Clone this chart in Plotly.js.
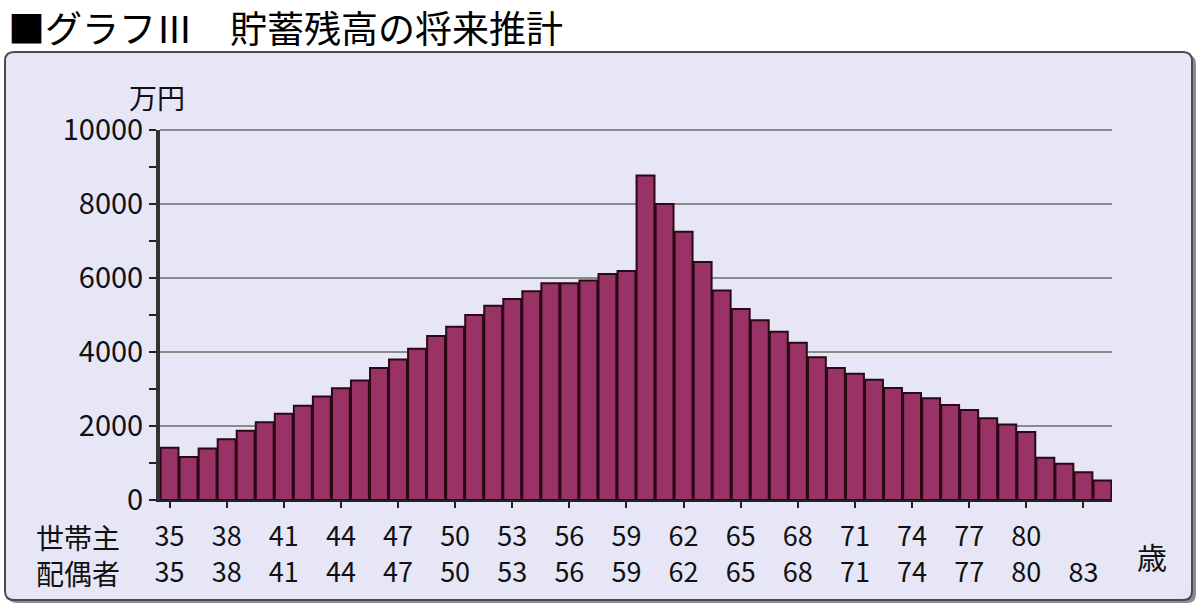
<!DOCTYPE html>
<html>
<head>
<meta charset="utf-8">
<script src="https://cdn.plot.ly/plotly-3.0.1.min.js"></script>
<style>html,body{margin:0;padding:0;background:#fff;}#chart{width:1200px;height:612px;}</style>
</head>
<body>
<div id="chart"></div>
<script>
// Spouse ages (one bar per year)
const ages = [35,36,37,38,39,40,41,42,43,44,45,46,47,48,49,50,51,52,53,54,55,56,57,58,59,
              60,61,62,63,64,65,66,67,68,69,70,71,72,73,74,75,76,77,78,79,80,81,82,83,84];
// Projected savings balance (万円)
const savings = [1410,1160,1390,1640,1870,2100,2330,2550,2800,3020,3230,3570,3800,4090,4430,4680,5000,5250,5430,5640,5860,5860,5930,6110,6190,
                 8770,8000,7250,6430,5660,5160,4860,4550,4250,3860,3570,3410,3250,3030,2890,2750,2570,2430,2210,2040,1840,1140,980,750,530];
// Tick labels
const tickAges = [35,38,41,44,47,50,53,56,59,62,65,68,71,74,77,80,83];
const headLabels = ['35','38','41','44','47','50','53','56','59','62','65','68','71','74','77','80',''];
const spouseLabels = ['35','38','41','44','47','50','53','56','59','62','65','68','71','74','77','80','83'];
const yTicks = [0,2000,4000,6000,8000,10000];
const yTickText = ['0','2000','4000','6000','8000','10000'];

const font = '"Noto Sans CJK JP", "Noto Sans", sans-serif';
const ticktext = tickAges.map((a,i)=> headLabels[i] + '<br>' + spouseLabels[i]);

// paper-coordinate helpers for decoration (plot area 160..1112 x 130..500 px)
const L=160, R=1112, T=130, B=500;
const px = x => (x-L)/(R-L);
const py = y => (B-y)/(B-T);

function roundRect(x0,y0,x1,y1,r){
  const X0=px(x0),X1=px(x1),Y0=py(y0),Y1=py(y1);
  const rx=r/(R-L), ry=r/(B-T);
  return `M ${X0+rx} ${Y0} L ${X1-rx} ${Y0} Q ${X1} ${Y0} ${X1} ${Y0-ry} L ${X1} ${Y1+ry} Q ${X1} ${Y1} ${X1-rx} ${Y1} L ${X0+rx} ${Y1} Q ${X0} ${Y1} ${X0} ${Y1+ry} L ${X0} ${Y0-ry} Q ${X0} ${Y0} ${X0+rx} ${Y0} Z`;
}

const trace = {
  type:'bar', x: ages, y: savings,
  marker:{color:'#993366', line:{color:'#2a0814', width:2}},
  hoverinfo:'x+y'
};

const layout = {
  width:1200, height:612,
  margin:{l:L, r:1200-R, t:T, b:612-B},
  paper_bgcolor:'#ffffff',
  plot_bgcolor:'#ffffff',
  bargap:0.06,
  showlegend:false,
  xaxis:{
    type:'linear', range:[34.5,84.5],
    tickvals:tickAges, ticktext:ticktext,
    ticks:'outside', ticklen:6, tickwidth:2, tickcolor:'#222',
    ticklabelstandoff:6,
    showline:true, linecolor:'#222', linewidth:2,
    showgrid:false, zeroline:false,
    tickfont:{family:font, size:27, color:'#111'},
    fixedrange:true
  },
  yaxis:{
    range:[0,10000], tickvals:yTicks, ticktext:yTickText,
    ticks:'outside', ticklen:7, tickwidth:2, tickcolor:'#222',
    minor:{dtick:1000, tick0:0, ticks:'outside', ticklen:7, tickwidth:2, tickcolor:'#222', showgrid:false},
    showline:true, linecolor:'#333', linewidth:4,
    showgrid:true, gridcolor:'#8a8a8a', gridwidth:2,
    zeroline:false,
    tickfont:{family:font, size:29, color:'#111'},
    fixedrange:true
  },
  shapes:[
    {type:'path', xref:'paper', yref:'paper', layer:'below', path:roundRect(8,55,1196,603,9),
     fillcolor:'#8c8c8c', line:{width:0}},
    {type:'path', xref:'paper', yref:'paper', layer:'below', path:roundRect(5,52,1192,600,9),
     fillcolor:'#e6e6f7', line:{color:'#4a4a4a', width:2}},
    {type:'line', xref:'paper', yref:'paper', x0:0, x1:1, y0:1, y1:1, line:{color:'#8a8a8a', width:2}}
  ],
  annotations:[
    {text:'■グラフⅢ　貯蓄残高の将来推計', xref:'paper', yref:'paper', x:px(6), y:py(27),
     xanchor:'left', yanchor:'middle', showarrow:false, font:{family:font, size:37, color:'#000'}},
    {text:'万円', xref:'paper', yref:'paper', x:px(157), y:py(97), xanchor:'center', yanchor:'middle',
     showarrow:false, font:{family:font, size:28, color:'#111'}},
    {text:'世帯主<br>配偶者', xref:'paper', yref:'paper', x:px(122), y:py(555), xanchor:'right', yanchor:'middle',
     align:'right', showarrow:false, font:{family:font, size:28, color:'#111'}},
    {text:'歳', xref:'paper', yref:'paper', x:px(1152), y:py(556), xanchor:'center', yanchor:'middle',
     showarrow:false, font:{family:font, size:30, color:'#111'}}
  ]
};

Plotly.newPlot('chart', [trace], layout, {displayModeBar:false, staticPlot:true});
</script>
</body>
</html>
